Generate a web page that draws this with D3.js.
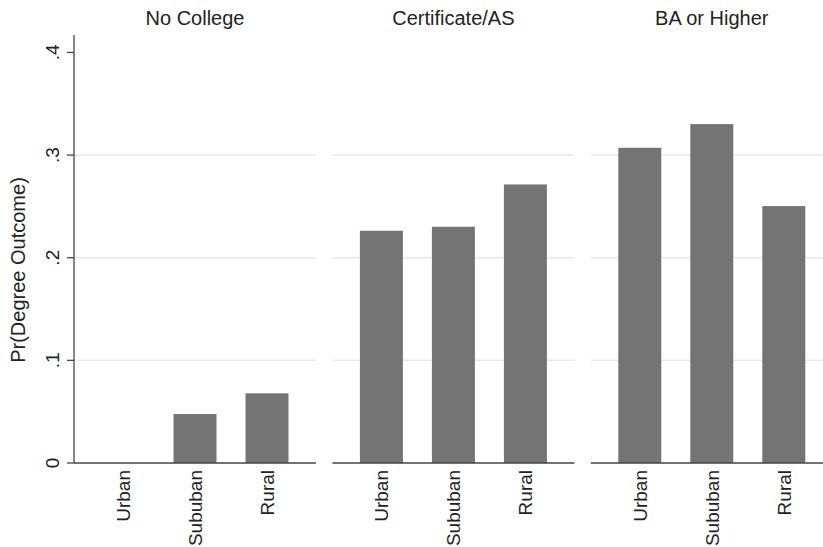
<!DOCTYPE html>
<html>
<head>
<meta charset="utf-8">
<script src="https://cdn.jsdelivr.net/npm/d3@7/dist/d3.min.js"></script>
<style>
  html, body { margin: 0; padding: 0; background: #fff; }
  svg { display: block; font-family: "Liberation Sans", Arial, Helvetica, sans-serif; }
</style>
</head>
<body>
<svg id="chart" width="823" height="547"></svg>
<script>
// Predicted probability of each degree outcome by locale
const panels = ["No College", "Certificate/AS", "BA or Higher"];
const locales = ["Urban", "Sububan", "Rural"];
const noCollege = [0, 0.0477, 0.0679];
const certificateAS = [0.2263, 0.2302, 0.2714];
const baOrHigher = [0.3071, 0.3302, 0.2503];
const yTicks = [0, 0.1, 0.2, 0.3, 0.4];
const yTickLabels = ["0", ".1", ".2", ".3", ".4"];
const yTitle = "Pr(Degree Outcome)";

const seriesByPanel = [noCollege, certificateAS, baOrHigher];

const svg = d3.select("#chart");

const panelW = 242;
const panelX = d3.scaleBand()
  .domain(panels)
  .range([74, 74 + 3 * panelW + 2 * 16.4])
  .paddingInner(16.4 / (panelW + 16.4));

const y = d3.scaleLinear().domain([0, 0.417]).range([463, 35]);

const x = d3.scaleBand()
  .domain(locales)
  .range([0, panelW])
  .paddingInner(0.403)
  .paddingOuter(0.382);

const barColor = "#747474";
const axisColor = "#454545";
const gridColor = "#e9e9e9";
const textColor = "#222";

panels.forEach((p, pi) => {
  const g = svg.append("g").attr("transform", `translate(${panelX(p)},0)`);

  // horizontal grid lines
  g.selectAll("line.grid")
    .data(yTicks.filter(t => t > 0 && t < 0.4))
    .join("line")
    .attr("class", "grid")
    .attr("x1", 0).attr("x2", panelW)
    .attr("y1", d => y(d)).attr("y2", d => y(d))
    .attr("stroke", gridColor).attr("stroke-width", 1.5);

  // bars
  const vals = seriesByPanel[pi];
  g.selectAll("rect.bar")
    .data(locales.map((c, i) => ({ c, v: vals[i] })))
    .join("rect")
    .attr("class", "bar")
    .attr("x", d => x(d.c))
    .attr("width", x.bandwidth())
    .attr("y", d => y(d.v))
    .attr("height", d => y(0) - y(d.v))
    .attr("fill", barColor);

  // baseline
  g.append("line")
    .attr("x1", 0).attr("x2", panelW)
    .attr("y1", y(0)).attr("y2", y(0))
    .attr("stroke", axisColor).attr("stroke-width", 1.3);

  // category labels, rotated
  g.selectAll("text.cat")
    .data(locales)
    .join("text")
    .attr("class", "cat")
    .attr("transform", d => `translate(${x(d) + x.bandwidth() / 2},470) rotate(-90)`)
    .attr("text-anchor", "end")
    .attr("dy", "0.36em")
    .attr("font-size", 19)
    .attr("fill", textColor)
    .text(d => d);

  // panel title
  g.append("text")
    .attr("x", panelW / 2)
    .attr("y", 25)
    .attr("text-anchor", "middle")
    .attr("font-size", 20)
    .attr("fill", textColor)
    .text(p);
});

// y axis on the first panel
const axisG = svg.append("g").attr("transform", `translate(${panelX(panels[0])},0)`);
axisG.append("line")
  .attr("x1", 0).attr("x2", 0)
  .attr("y1", y(0)).attr("y2", y.range()[1])
  .attr("stroke", axisColor).attr("stroke-width", 1.3);

axisG.selectAll("line.tick")
  .data(yTicks)
  .join("line")
  .attr("class", "tick")
  .attr("x1", -7).attr("x2", 0)
  .attr("y1", d => y(d)).attr("y2", d => y(d))
  .attr("stroke", axisColor).attr("stroke-width", 1.3);

axisG.selectAll("text.tick")
  .data(yTicks)
  .join("text")
  .attr("class", "tick")
  .attr("transform", d => `translate(-15,${y(d)}) rotate(-90)`)
  .attr("text-anchor", "middle")
  .attr("font-size", 19)
  .attr("fill", textColor)
  .text((d, i) => yTickLabels[i]);

svg.append("text")
  .attr("transform", `translate(25,${(y(0) + y.range()[1]) / 2 + 21}) rotate(-90)`)
  .attr("text-anchor", "middle")
  .attr("font-size", 20)
  .attr("fill", textColor)
  .text(yTitle);
</script>
</body>
</html>
